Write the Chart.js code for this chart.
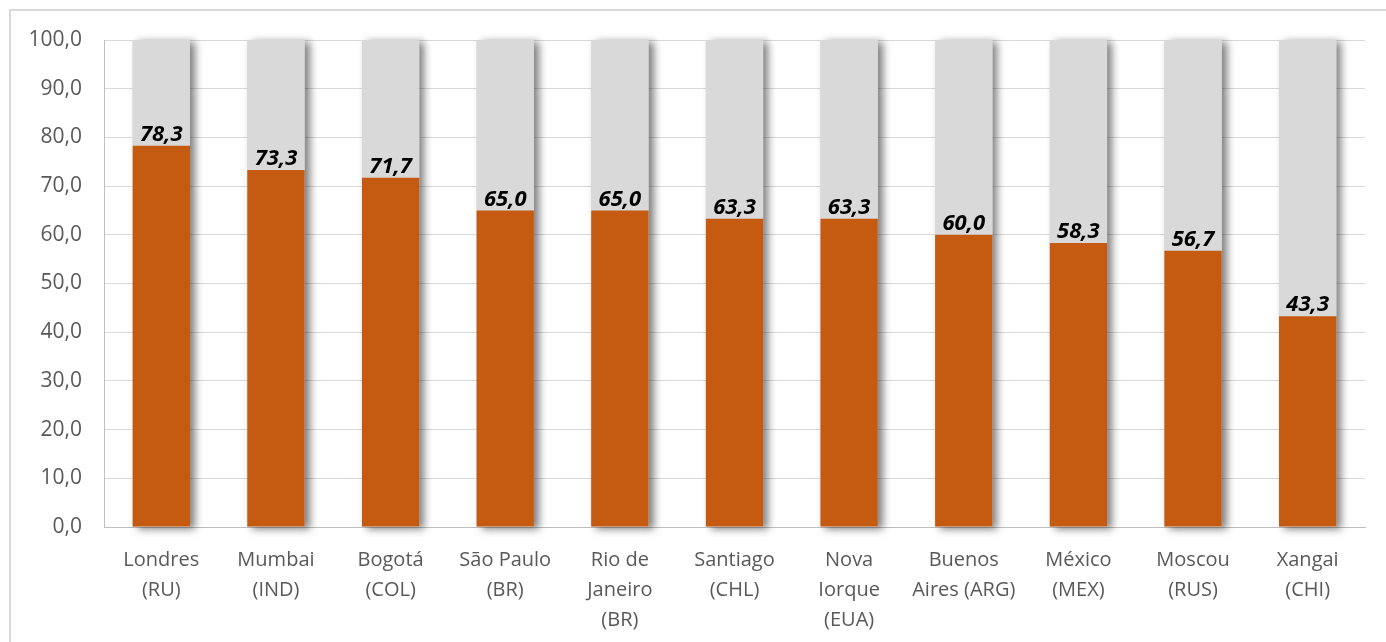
<!DOCTYPE html>
<html lang="pt">
<head>
<meta charset="utf-8">
<title>Cidades</title>
<script src="https://cdn.jsdelivr.net/npm/chart.js@4/dist/chart.umd.min.js"></script>
<style>
  html, body { margin: 0; padding: 0; background: #fff; }
  #moldura {
    position: absolute; left: 9px; top: 9px; right: 0; bottom: 0;
    border-top: 2px solid #d9d9d9; border-left: 2px solid #d9d9d9;
  }
  #caixa { position: absolute; left: 0; top: 0; width: 1386px; height: 642px; }
</style>
</head>
<body>
<div id="moldura"></div>
<div id="caixa"><canvas id="grafico"></canvas></div>
<script>
// cidades e pontuação (0 a 100)
const cidades = [
  ["Londres", "(RU)"],
  ["Mumbai", "(IND)"],
  ["Bogotá", "(COL)"],
  ["São Paulo", "(BR)"],
  ["Rio de", "Janeiro", "(BR)"],
  ["Santiago", "(CHL)"],
  ["Nova", "Iorque", "(EUA)"],
  ["Buenos", "Aires (ARG)"],
  ["México", "(MEX)"],
  ["Moscou", "(RUS)"],
  ["Xangai", "(CHI)"]
];
const pontuacao = [78.3, 73.3, 71.7, 65.0, 65.0, 63.3, 63.3, 60.0, 58.3, 56.7, 43.3];
const escalaMax = 100;
const restante = pontuacao.map(v => +(escalaMax - v).toFixed(1));

const fmt = v => Number(v).toFixed(1).replace('.', ',');

// sombra atrás de cada coluna inteira (0 a 100)
const sombraPlugin = {
  id: 'sombra',
  beforeDatasetsDraw(chart) {
    const ctx = chart.ctx;
    const y = chart.scales.y;
    const meta = chart.getDatasetMeta(1);
    ctx.save();
    ctx.shadowColor = 'rgba(0,0,0,0.5)';
    ctx.shadowBlur = 8;
    ctx.shadowOffsetX = 5;
    ctx.shadowOffsetY = 2;
    ctx.fillStyle = '#d9d9d9';
    meta.data.forEach(bar => {
      const p = bar.getProps(['x', 'width'], true);
      const topo = y.getPixelForValue(escalaMax);
      const base = y.getPixelForValue(0);
      ctx.fillRect(p.x - p.width / 2, topo, p.width, base - topo);
    });
    ctx.restore();
  }
};

// rótulos de valor sobre a parte laranja
const rotulosPlugin = {
  id: 'rotulos',
  afterDatasetsDraw(chart) {
    const ctx = chart.ctx;
    const meta = chart.getDatasetMeta(0);
    ctx.save();
    ctx.font = 'italic bold 22px "Open Sans"';
    ctx.fillStyle = '#000';
    ctx.textAlign = 'center';
    ctx.textBaseline = 'bottom';
    meta.data.forEach((bar, i) => {
      const p = bar.getProps(['x', 'y'], true);
      ctx.fillText(fmt(pontuacao[i]), p.x, p.y);
    });
    ctx.restore();
  }
};

new Chart(document.getElementById('grafico'), {
  type: 'bar',
  data: {
    labels: cidades,
    datasets: [
      { label: 'Pontuação', data: pontuacao, backgroundColor: '#c55a11', categoryPercentage: 1, barPercentage: 0.5 },
      { label: 'Restante', data: restante, backgroundColor: '#d9d9d9', categoryPercentage: 1, barPercentage: 0.5 }
    ]
  },
  options: {
    responsive: true,
    maintainAspectRatio: false,
    animation: false,
    layout: { padding: { top: 40, right: 21, left: 0, bottom: 0 } },
    plugins: { legend: { display: false }, tooltip: { enabled: false } },
    scales: {
      x: {
        stacked: true,
        grid: { display: false, drawTicks: false },
        border: { color: '#bfbfbf', width: 1 },
        ticks: { color: '#595959', font: { family: 'Open Sans', size: 20, lineHeight: 1.5 }, padding: 18, maxRotation: 0, autoSkip: false },
        afterFit(scale) { scale.height = 115; }
      },
      y: {
        stacked: true,
        min: 0, max: escalaMax,
        grid: { color: '#d9d9d9', drawTicks: false },
        border: { color: '#bfbfbf', width: 1 },
        ticks: { stepSize: 10, color: '#595959', font: { family: 'Open Sans', size: 21 }, padding: 22, callback: v => fmt(v) },
        afterFit(scale) { scale.width = 104; }
      }
    }
  },
  plugins: [sombraPlugin, rotulosPlugin]
});
</script>
</body>
</html>
